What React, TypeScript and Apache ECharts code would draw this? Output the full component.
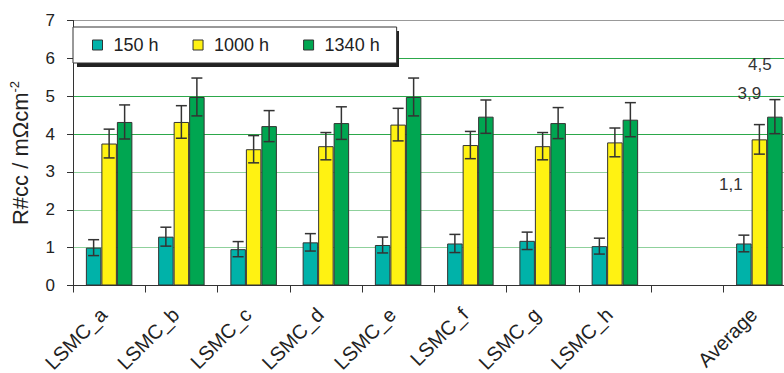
import React, { useEffect, useRef } from 'react';
import * as echarts from 'echarts';

const categories = ['LSMC_a', 'LSMC_b', 'LSMC_c', 'LSMC_d', 'LSMC_e', 'LSMC_f', 'LSMC_g', 'LSMC_h', '', 'Average'];
const seriesNames = ['150 h', '1000 h', '1340 h'];
const values150 = [1.0, 1.29, 0.96, 1.14, 1.07, 1.11, 1.18, 1.04, null, 1.11];
const values1000 = [3.75, 4.32, 3.6, 3.68, 4.25, 3.71, 3.68, 3.78, null, 3.86];
const values1340 = [4.32, 4.98, 4.21, 4.29, 4.98, 4.46, 4.29, 4.38, null, 4.46];
const err150 = [0.21, 0.25, 0.2, 0.23, 0.21, 0.24, 0.23, 0.21, null, 0.22];
const err1000 = [0.38, 0.43, 0.36, 0.36, 0.43, 0.36, 0.36, 0.38, null, 0.39];
const err1340 = [0.45, 0.5, 0.41, 0.43, 0.5, 0.44, 0.41, 0.45, null, 0.45];
const yMin = 0;
const yMax = 7;
const yInterval = 1;

const FONT = 'Liberation Sans, Arial, sans-serif';
const colors = ['#00b2a9', '#fff212', '#00a651'];
const BAR_W = 15.5;
const labelOffsets = [[-13, -45], [-10, -32], [-15, -39]];

const fmt = (v: number) => v.toFixed(1).replace('.', ',');

function barSeries(idx: number, vals: (number | null)[]) {
  return {
    name: seriesNames[idx],
    type: 'bar',
    barWidth: BAR_W,
    barGap: '0%',
    z: 3,
    itemStyle: { color: colors[idx], borderColor: '#333', borderWidth: 1 },
    data: vals.map((v, i) =>
      i === categories.length - 1 && v != null
        ? {
            value: v,
            label: {
              show: true,
              position: 'top',
              offset: labelOffsets[idx],
              color: '#333',
              fontSize: 17,
              fontFamily: FONT,
              formatter: (p: any) => fmt(p.value),
            },
          }
        : v
    ),
  };
}

function errSeries(idx: number, vals: (number | null)[], errs: (number | null)[]) {
  const offset = (idx - 1) * BAR_W;
  const data: number[][] = [];
  vals.forEach((v, i) => {
    if (v != null && errs[i] != null) data.push([i, v, errs[i] as number]);
  });
  return {
    type: 'custom',
    coordinateSystem: 'cartesian2d',
    silent: true,
    z: 8,
    encode: { x: 0, y: 1 },
    data,
    renderItem: (params: any, api: any) => {
      const i = api.value(0);
      const v = api.value(1);
      const e = api.value(2);
      const top = api.coord([i, v + e]);
      const bot = api.coord([i, v - e]);
      const x = top[0] + offset;
      const hw = 5.5;
      const style = { stroke: '#333', lineWidth: 1.5 };
      return {
        type: 'group',
        children: [
          { type: 'line', shape: { x1: x, y1: top[1], x2: x, y2: bot[1] }, style },
          { type: 'line', shape: { x1: x - hw, y1: top[1], x2: x + hw, y2: top[1] }, style },
          { type: 'line', shape: { x1: x - hw, y1: bot[1], x2: x + hw, y2: bot[1] }, style },
        ],
      };
    },
  };
}

export default function App() {
  const ref = useRef<HTMLDivElement>(null);
  useEffect(() => {
    if (!ref.current) return;
    const chart = echarts.init(ref.current, undefined, { renderer: 'svg' });
    chart.setOption({
      animation: false,
      backgroundColor: '#fff',
      grid: { left: 73, top: 20.5, bottom: 87.5, width: 722.5, containLabel: false, outerBoundsMode: 'none' },
      graphic: [
        { type: 'rect', z: 5, shape: { x: 77, y: 31, width: 322, height: 36 }, style: { fill: '#222' } },
      ],
      legend: {
        z: 10,
        left: 73,
        top: 27,
        data: seriesNames,
        icon: 'rect',
        itemWidth: 10,
        itemHeight: 10,
        itemGap: 34,
        padding: [9, 17, 9, 19],
        backgroundColor: '#fff',
        borderColor: '#333',
        borderWidth: 1,
        itemStyle: { borderColor: '#333', borderWidth: 1 },
        textStyle: { fontSize: 18, color: '#222', fontFamily: FONT, padding: [0, 0, 0, 6] },
      },
      xAxis: {
        type: 'category',
        data: categories,
        boundaryGap: true,
        axisLine: { lineStyle: { color: '#333', width: 1 } },
        axisTick: { show: true, length: 7, lineStyle: { color: '#333' } },
        axisLabel: {
          interval: 0,
          rotate: 45,
          margin: 20,
          padding: [0, 8, 0, 0],
          fontSize: 20,
          color: '#222',
          fontFamily: FONT,
        },
        splitLine: { show: false },
      },
      yAxis: {
        type: 'value',
        min: yMin,
        max: yMax,
        interval: yInterval,
        name: '{a|R#cc / mΩcm}{s|-2}',
        nameLocation: 'middle',
        nameGap: 40,
        nameRotate: 90,
        nameTextStyle: {
          fontFamily: FONT,
          color: '#222',
          rich: {
            a: { fontSize: 22, fontFamily: FONT, color: '#222' },
            s: { fontSize: 13, fontFamily: FONT, color: '#222', padding: [0, 0, 12, 0] },
          },
        },
        axisLine: { show: true, lineStyle: { color: '#333', width: 1 } },
        axisTick: { show: true, length: 6, lineStyle: { color: '#333' } },
        axisLabel: { margin: 18, fontSize: 17, color: '#222', fontFamily: FONT },
        splitLine: {
          show: true,
          lineStyle: {
            width: 1,
            color: ['#333', '#8fd19c', '#8fd19c', '#8fd19c', '#2ca84a', '#2ca84a', '#2ca84a', '#999'],
          },
        },
      },
      series: [
        barSeries(0, values150),
        barSeries(1, values1000),
        barSeries(2, values1340),
        errSeries(0, values150, err150),
        errSeries(1, values1000, err1000),
        errSeries(2, values1340, err1340),
      ],
    });
    return () => chart.dispose();
  }, []);
  return <div ref={ref} style={{ position: 'absolute', left: 0, top: 0, width: 784, height: 373 }} />;
}
